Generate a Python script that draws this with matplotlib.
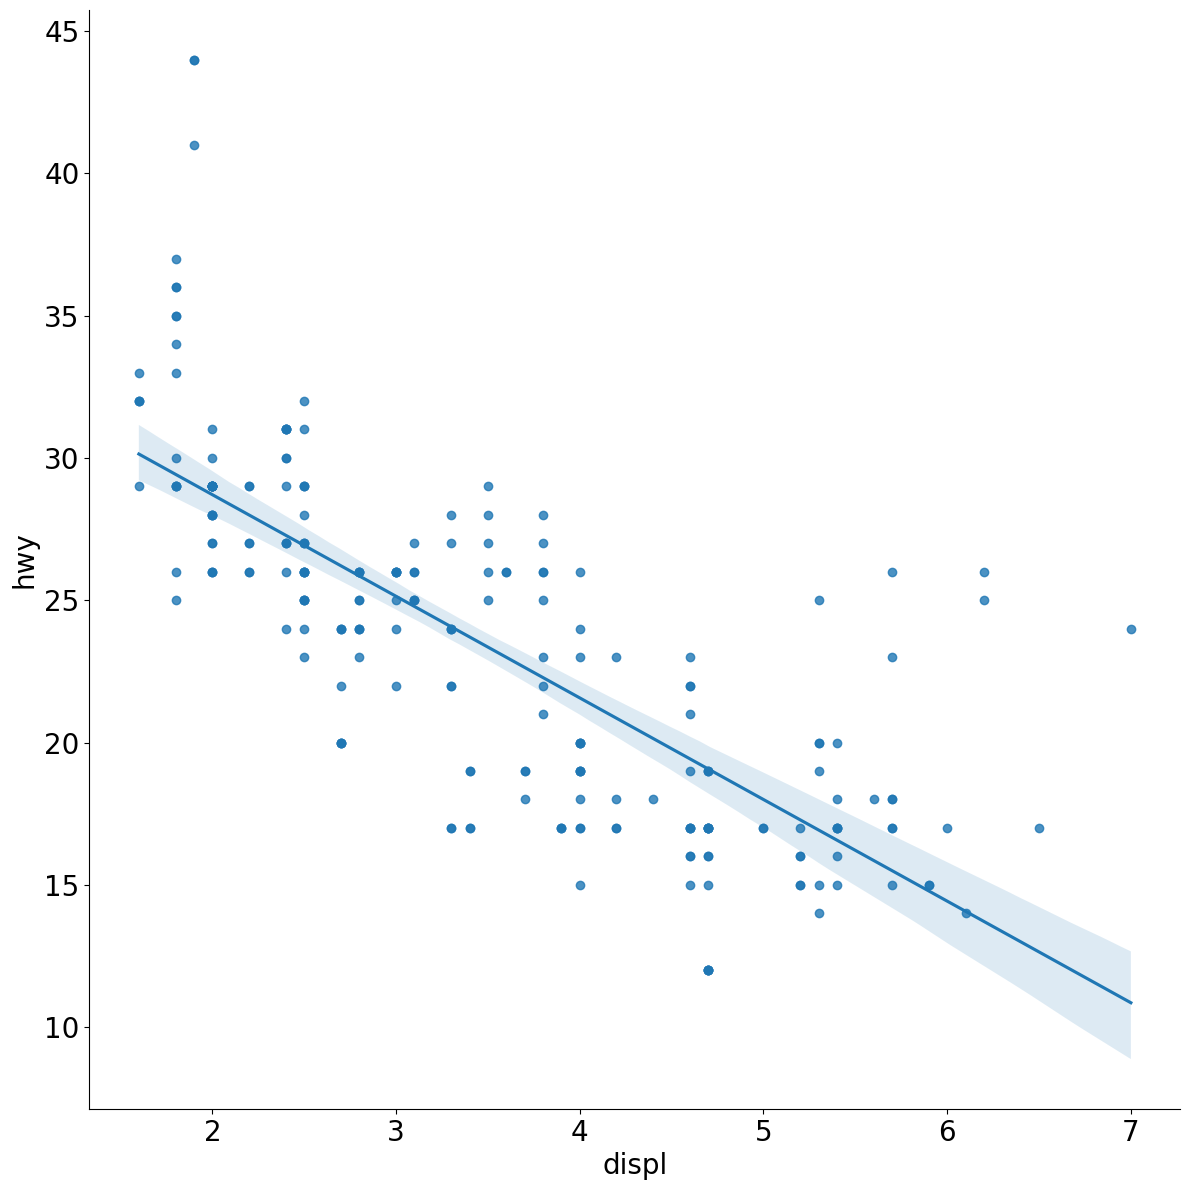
import pandas as pd
import matplotlib
matplotlib.use("Agg")
import matplotlib.pyplot as plt
import seaborn as sns

# engine displacement (litres) and highway mileage, one entry per car
displ = [
    1.8, 1.8, 2.0, 2.0, 2.8, 2.8, 3.1,
    1.8, 1.8, 2.0, 2.0, 2.8, 2.8, 3.1, 3.1,
    2.8, 3.1, 4.2,
    5.3, 5.3, 5.3, 5.7, 6.0,
    5.7, 5.7, 6.2, 6.2, 7.0,
    5.3, 5.3, 5.7, 6.5,
    2.4, 2.4, 3.1, 3.5, 3.6,
    2.4, 3.0, 3.3, 3.3, 3.3, 3.3, 3.3, 3.8, 3.8, 3.8, 4.0,
    3.7, 3.7, 3.9, 3.9, 4.7, 4.7, 4.7, 5.2, 5.2,
    3.9, 4.7, 4.7, 4.7, 5.2, 5.7, 5.9,
    4.7, 4.7, 4.7, 4.7, 4.7, 4.7, 5.2, 5.2, 5.7, 5.9,
    4.6, 5.4, 5.4,
    4.0, 4.0, 4.0, 4.0, 4.6, 5.0,
    4.2, 4.2, 4.6, 4.6, 4.6, 5.4, 5.4,
    3.8, 3.8, 4.0, 4.0, 4.6, 4.6, 4.6, 4.6, 5.4,
    1.6, 1.6, 1.6, 1.6, 1.6, 1.8, 1.8, 1.8, 2.0,
    2.4, 2.4, 2.4, 2.4, 2.5, 2.5, 3.3,
    2.0, 2.0, 2.0, 2.0, 2.7, 2.7, 2.7,
    3.0, 3.7, 4.0, 4.7, 4.7, 4.7, 5.7, 6.1,
    4.0, 4.2, 4.4, 4.6,
    5.4, 5.4, 5.4,
    4.0, 4.0, 4.6, 5.0,
    2.4, 2.4, 2.5, 2.5, 3.5, 3.5,
    3.0, 3.0, 3.5,
    3.3, 3.3, 4.0, 5.6,
    3.1, 3.8, 3.8, 3.8, 5.3,
    2.5, 2.5, 2.5, 2.5, 2.5, 2.5,
    2.2, 2.2, 2.5, 2.5, 2.5, 2.5, 2.5, 2.5,
    2.7, 2.7, 3.4, 3.4, 4.0, 4.7,
    2.2, 2.2, 2.4, 2.4, 3.0, 3.0, 3.5,
    2.2, 2.2, 2.4, 2.4, 3.0, 3.0, 3.3,
    1.8, 1.8, 1.8, 1.8, 1.8,
    4.7, 4.6,
    2.7, 2.7, 2.7, 3.4, 3.4, 4.0, 4.0,
    2.0, 2.0, 2.0, 2.0, 2.8,
    1.9, 2.0, 2.0, 2.0, 2.0, 2.5, 2.5, 2.8, 2.8,
    1.9, 1.9, 2.0, 2.0, 2.5, 2.5,
    1.8, 1.8, 2.0, 2.0, 2.8, 2.8, 3.6,
]
hwy = [
    29, 29, 31, 30, 26, 26, 27,
    26, 25, 28, 27, 25, 25, 25, 25,
    24, 25, 23,
    20, 15, 20, 17, 17,
    26, 23, 26, 25, 24,
    19, 14, 15, 17,
    27, 30, 26, 29, 26,
    24, 24, 22, 22, 24, 24, 24, 22, 21, 23, 23,
    19, 18, 17, 17, 19, 19, 12, 17, 15,
    17, 17, 12, 17, 16, 18, 15,
    16, 12, 17, 17, 16, 12, 15, 16, 17, 15,
    17, 17, 18,
    17, 19, 17, 19, 19, 17,
    17, 17, 16, 16, 17, 15, 17,
    26, 25, 26, 24, 21, 22, 23, 22, 20,
    33, 32, 32, 29, 32, 34, 36, 36, 29,
    26, 27, 30, 31, 26, 26, 28,
    26, 29, 28, 27, 24, 24, 24,
    22, 19, 20, 17, 12, 19, 18, 14,
    15, 18, 18, 17,
    16, 17, 17,
    19, 19, 17, 17,
    29, 27, 31, 32, 27, 26,
    26, 25, 25,
    17, 17, 20, 18,
    26, 26, 27, 28, 25,
    25, 24, 27, 25, 26, 23,
    26, 26, 26, 26, 25, 27, 25, 27,
    20, 20, 19, 17, 20, 17,
    29, 27, 31, 31, 26, 26, 28,
    27, 29, 31, 31, 26, 26, 27,
    30, 33, 35, 37, 35,
    15, 15,
    20, 20, 22, 17, 19, 18, 20,
    29, 29, 28, 29, 24,
    44, 29, 26, 29, 29, 29, 29, 23, 24,
    44, 41, 29, 26, 28, 29,
    29, 29, 28, 29, 26, 26, 26,
]

df = pd.DataFrame({"displ": displ, "hwy": hwy})

plt.rcParams["font.size"] = 20

g = sns.lmplot(data=df, x="displ", y="hwy", height=11.9, aspect=1.0, seed=1)
ax = g.ax
ax.tick_params(labelsize=20)
ax.set_xlabel("displ", fontsize=20)
ax.set_ylabel("hwy", fontsize=20)
ax.set_yticks([10, 15, 20, 25, 30, 35, 40, 45])
ax.set_xticks([2, 3, 4, 5, 6, 7])

g.figure.subplots_adjust(left=0.075, right=0.992, bottom=0.068, top=0.992)
g.figure.savefig("out.png", dpi=100)
